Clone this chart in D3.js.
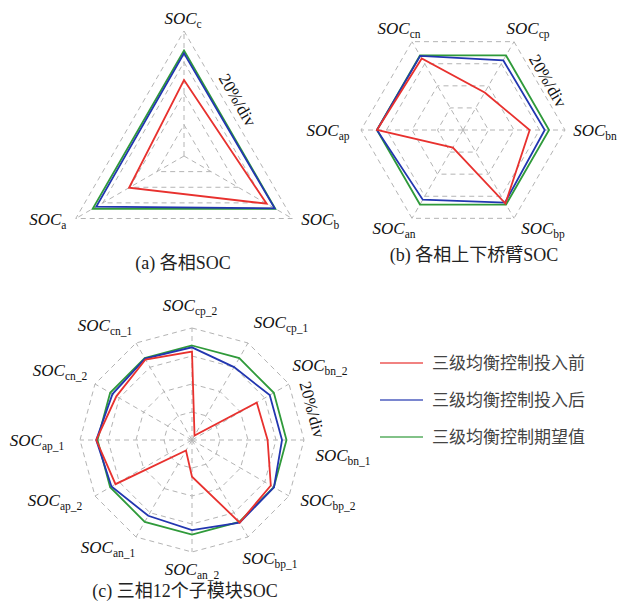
<!DOCTYPE html>
<html>
<head>
<meta charset="utf-8">
<script src="https://cdn.jsdelivr.net/npm/d3@7"></script>
<style>
  html, body { margin: 0; padding: 0; background: #fff; }
  svg { display: block; }
  .lbl { font-family: "Liberation Serif", "Times New Roman", serif; fill: #111; }
  .cap { font-family: "Liberation Serif", "Noto Sans CJK SC", serif; font-size: 18px; fill: #222; }
  .leg { font-family: "Noto Sans CJK SC", sans-serif; font-size: 17px; fill: #444; }
</style>
</head>
<body>
<svg id="chart" width="618" height="605"></svg>
<script>
// Radial scale: centre = 20 %, outer ring = 100 %, 20 % per division
const ringLevels = [40, 60, 80, 100];
const seriesNames = ["三级均衡控制投入前", "三级均衡控制投入后", "三级均衡控制期望值"];
const seriesColors = ["#e8312e", "#2236b0", "#2f9a3a"];

// (a) phase SOC, clockwise from top
const axesA = ["c", "b", "a"];
const beforeA = [68.6, 81.1, 60.6];
const afterA = [85.7, 87.0, 84.8];
const expectA = [87.5, 87.5, 87.5];

// (b) upper / lower arm SOC, clockwise from SOC_cp
const axesB = ["cp", "bn", "bp", "an", "ap", "cn"];
const beforeB = [54.0, 72.3, 86.6, 35.9, 87.5, 84.7];
const afterB = [83.1, 84.1, 85.8, 83.1, 87.5, 87.1];
const expectB = [87.5, 87.5, 87.5, 87.5, 87.5, 87.5];

// (c) 12 sub-module SOC, clockwise from top
const axesC = ["cp_2", "cp_1", "bn_2", "bn_1", "bp_2", "bp_1", "an_2", "an_1", "ap_2", "ap_1", "cn_2", "cn_1"];
const beforeC = [83.1, 23.6, 73.4, 74.0, 85.0, 88.1, 46.2, 28.6, 83.1, 88.4, 82.4, 86.4];
const afterC = [86.2, 80.1, 84.1, 84.3, 87.6, 88.1, 84.3, 82.5, 86.4, 88.4, 85.6, 87.2];
const expectC = [87.5, 87.5, 87.5, 87.5, 87.5, 87.5, 87.5, 87.5, 87.5, 87.5, 87.5, 87.5];

const captions = ["(a) 各相SOC", "(b) 各相上下桥臂SOC", "(c) 三相12个子模块SOC"];

// Layout of each radar panel
const panels = [
  { axes: axesA, series: [expectA, afterA, beforeA], cx: 184, cy: 156, R: 125, rot: 0,
    nudge: [[-1, 17], [2, -15], [-2, -15]],
    div: { edge: 0, t: 0.4, off: 12 }, cap: [183, 269] },
  { axes: axesB, series: [expectB, afterB, beforeB], cx: 463, cy: 130, R: 102, rot: Math.PI / 6,
    nudge: [[-1, 12], [0, 0], [14, -16], [-3, -16], [-3, 0], [2, 12]],
    div: { edge: 0, t: 0.5, off: 10 }, cap: [474, 261] },
  { axes: axesC, series: [expectC, afterC, beforeC], cx: 192, cy: 440, R: 112, rot: 0,
    nudge: [[-2, 7], [18, 5], [5, -4], [9, 15], [13, -11], [7, -5], [0, -13], [-13, -16], [-14, -11], [-13, 0], [-9, 1], [-16, 8]],
    div: { edge: 2, t: 0.53, off: 16 }, cap: [185, 597] }
];

const svg = d3.select("#chart");

panels.forEach((p, pi) => {
  const n = p.axes.length;
  const r = d3.scaleLinear().domain([20, 100]).range([0, p.R]);
  const ang = i => p.rot + i * 2 * Math.PI / n;            // clockwise from 12 o'clock
  const pt = (i, rad) => [Math.sin(ang(i)) * rad, -Math.cos(ang(i)) * rad];
  const g = svg.append("g").attr("transform", `translate(${p.cx},${p.cy})`);
  const idx = d3.range(n);

  // dashed polygon rings
  const ringLine = d3.lineRadial().angle(i => ang(i)).curve(d3.curveLinearClosed);
  g.selectAll(".ring").data(ringLevels).join("path")
    .attr("d", lv => ringLine.radius(() => r(lv))(idx))
    .attr("fill", "none").attr("stroke", "#b4b4b4").attr("stroke-width", 1)
    .attr("stroke-dasharray", "5,4");

  // dashed spokes
  g.selectAll(".spoke").data(idx).join("line")
    .attr("x1", 0).attr("y1", 0)
    .attr("x2", i => pt(i, r(100))[0]).attr("y2", i => pt(i, r(100))[1])
    .attr("stroke", "#b4b4b4").attr("stroke-width", 1).attr("stroke-dasharray", "5,4");

  // series polygons: expected, after, before
  const colorOrder = [seriesColors[2], seriesColors[1], seriesColors[0]];
  p.series.forEach((vals, si) => {
    const line = d3.lineRadial().angle((d, i) => ang(i)).radius(d => r(d)).curve(d3.curveLinearClosed);
    g.append("path").attr("d", line(vals))
      .attr("fill", "none").attr("stroke", colorOrder[si]).attr("stroke-width", 1.8)
      .attr("stroke-linejoin", "miter");
  });

  // axis labels SOC_x
  p.axes.forEach((name, i) => {
    const [x, y] = pt(i, p.R + 30);
    const t = g.append("text").attr("class", "lbl")
      .attr("x", x + p.nudge[i][0]).attr("y", y + p.nudge[i][1] + 6)
      .attr("text-anchor", "middle");
    t.append("tspan").attr("font-style", "italic").attr("font-size", 17).text("SOC");
    t.append("tspan").attr("font-size", 11.5).attr("dy", 4).text(name);
  });

  // scale annotation just outside an outer edge
  const a0 = pt(p.div.edge, p.R), a1 = pt(p.div.edge + 1, p.R);
  const ex = a1[0] - a0[0], ey = a1[1] - a0[1], el = Math.hypot(ex, ey);
  const ux = ex / el, uy = ey / el;
  const mx = a0[0] + ex * p.div.t + uy * p.div.off;
  const my = a0[1] + ey * p.div.t - ux * p.div.off;
  const deg = Math.atan2(ey, ex) * 180 / Math.PI;
  g.append("text").attr("class", "lbl").attr("font-size", 17)
    .attr("transform", `translate(${mx},${my}) rotate(${deg})`)
    .attr("text-anchor", "middle").attr("dy", "0.35em")
    .text("20%/div");

  // caption
  svg.append("text").attr("class", "cap")
    .attr("x", p.cap[0]).attr("y", p.cap[1]).attr("text-anchor", "middle")
    .text(captions[pi]);
});

// legend
const legY = d3.scalePoint().domain(seriesNames).range([363, 437]);
const leg = svg.append("g");
seriesNames.forEach((name, i) => {
  leg.append("line").attr("x1", 380).attr("x2", 423)
    .attr("y1", legY(name)).attr("y2", legY(name))
    .attr("stroke", seriesColors[i]).attr("stroke-width", 1.5).attr("opacity", 0.8);
  leg.append("text").attr("class", "leg").attr("x", 432).attr("y", legY(name))
    .attr("dy", "0.35em").text(name);
});
</script>
</body>
</html>
